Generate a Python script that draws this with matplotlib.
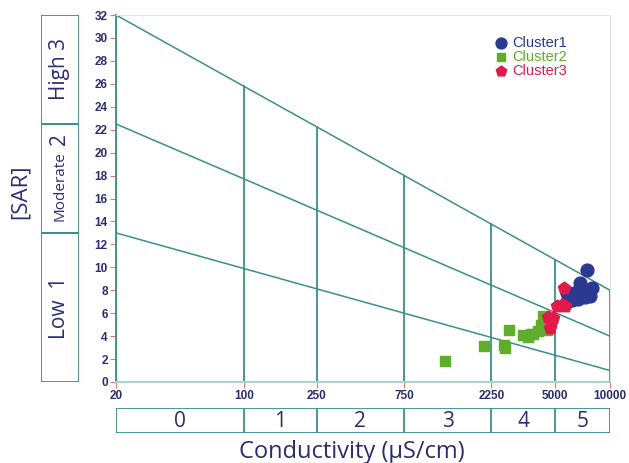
import numpy as np
import matplotlib.pyplot as plt
from matplotlib.patches import Rectangle

# Wilcox / USSL style diagram: SAR vs electrical conductivity
teal = '#3a8f8c'
navy = '#2b2d6e'

# sample values (EC in uS/cm, SAR)
c1_ec = [7500, 6870, 7980, 7700, 5830, 6370, 6870, 7310, 6690, 6210, 7780, 5760]
c1_sar = [9.76, 8.63, 8.2, 7.85, 7.76, 7.76, 7.85, 7.41, 7.24, 7.15, 7.5, 6.9]

c2_ec = [1256, 2052, 2637, 2673, 2811, 3350, 3565, 3800, 4045, 4200, 4307, 4530, 3700]
c2_sar = [1.83, 3.14, 3.23, 2.96, 4.53, 4.10, 3.92, 4.18, 4.45, 4.97, 5.75, 4.53, 4.2]

c3_ec = [5610, 5140, 5480, 5700, 4590, 4900, 4710, 4840]
c3_sar = [8.2, 6.6, 6.7, 6.6, 5.7, 5.6, 4.7, 5.4]

# boundary lines (SAR at EC=20 and EC=10000)
bounds = [(32, 8), (22.5, 4), (13, 1)]
ec_ticks = [20, 100, 250, 750, 2250, 5000, 10000]
salinity_classes = ['0', '1', '2', '3', '4', '5']
sodium_classes = [(0, 13, 'Low  1'), (13, 22.5, 'Moderate 2'), (22.5, 32, 'High 3')]

fig = plt.figure(figsize=(6.29, 4.63), dpi=100)
ax = fig.add_axes([116/629, 81/463, 494/629, 367/463])
ax.set_xscale('log')
ax.set_xlim(20, 10000)
ax.set_ylim(0, 32)

def line_at(ec, top, bot):
    t = np.log10(ec / 20) / np.log10(10000 / 20)
    return top + (bot - top) * t

xs = np.array([20, 10000])
for top, bot in bounds:
    ax.plot(xs, [top, bot], color=teal, lw=1.1, zorder=2)
for ec in ec_ticks:
    ax.plot([ec, ec], [0, line_at(ec, *bounds[0])], color=teal, lw=1.3, zorder=2)

ax.scatter(c1_ec, c1_sar, s=85, marker='o', color='#2b3990', label='Cluster1', zorder=4)
ax.scatter(c2_ec, c2_sar, s=55, marker='s', color='#5fae2b', label='Cluster2', zorder=3)
ax.scatter(c3_ec, c3_sar, s=85, marker='p', color='#e2194b', label='Cluster3', zorder=5)

ax.set_xticks(ec_ticks)
ax.set_xticklabels([str(v) for v in ec_ticks])
ax.xaxis.set_minor_locator(plt.NullLocator())
ax.set_yticks(range(0, 33, 2))
ax.tick_params(colors='#e07a7a', length=4, width=0.8, labelsize=8.5,
               labelcolor=navy, pad=2)
for lab in ax.get_xticklabels() + ax.get_yticklabels():
    lab.set_fontweight('bold')
    lab.set_family('Liberation Sans')

ax.spines['left'].set_color(teal)
ax.spines['left'].set_linewidth(1.3)
ax.spines['bottom'].set_color('#a8d4cf')
ax.spines['bottom'].set_linewidth(1.5)
for s in ['top', 'right']:
    ax.spines[s].set_color('#e4e4e4')

leg = ax.legend(loc='upper right', bbox_to_anchor=(0.925, 0.96), frameon=False,
                handletextpad=0.3, labelspacing=0.0, borderaxespad=0,
                prop={'family': 'Liberation Sans', 'size': 10.5}, handlelength=1.0,
                markerscale=0.85)
for txt, col in zip(leg.get_texts(), ['#2b3990', '#5fae2b', '#e2194b']):
    txt.set_color(col)

# sodium hazard boxes on the left
ax2 = fig.add_axes([41/629, 81/463, 38/629, 367/463])
ax2.set_xlim(0, 1)
ax2.set_ylim(0, 32)
ax2.axis('off')
for lo, hi, name in sodium_classes:
    ax2.add_patch(Rectangle((0, lo), 1, hi - lo, fill=False, ec=teal, lw=1.3))
    if name.startswith('Moderate'):
        ax2.text(0.5, lo + (hi - lo) * 0.43, 'Moderate', rotation=90, ha='center',
                 va='center', fontsize=11, color=navy, family='Open Sans')
        ax2.text(0.5, lo + (hi - lo) * 0.86, '2', rotation=90, ha='center',
                 va='center', fontsize=15, color=navy, family='Open Sans')
    else:
        ax2.text(0.5, (lo + hi) / 2, name, rotation=90, ha='center', va='center',
                 fontsize=15, color=navy, family='Open Sans')

# salinity hazard boxes below
ax3 = fig.add_axes([116/629, 30/463, 494/629, 25/463])
ax3.set_xscale('log')
ax3.set_xlim(20, 10000)
ax3.set_ylim(0, 1)
ax3.axis('off')
ax3.add_patch(Rectangle((20, 0), 10000 - 20, 1, fill=False, ec=teal, lw=1.3))
for ec in ec_ticks[1:-1]:
    ax3.plot([ec, ec], [0, 1], color=teal, lw=1.3)
for a, b, lab in zip(ec_ticks[:-1], ec_ticks[1:], salinity_classes):
    ax3.text(np.sqrt(a * b), 0.45, lab, ha='center', va='center', fontsize=15,
             color=navy, family='Open Sans')

fig.text(20/629, 0.585, '[SAR]', rotation=90, ha='center', va='center',
         fontsize=16, color=navy, family='Open Sans')
fig.text(352/629, 11/463, 'Conductivity (\u03bcS/cm)', ha='center', va='center',
         fontsize=17, color=navy, family='Open Sans')

fig.savefig('out.png', dpi=100)
